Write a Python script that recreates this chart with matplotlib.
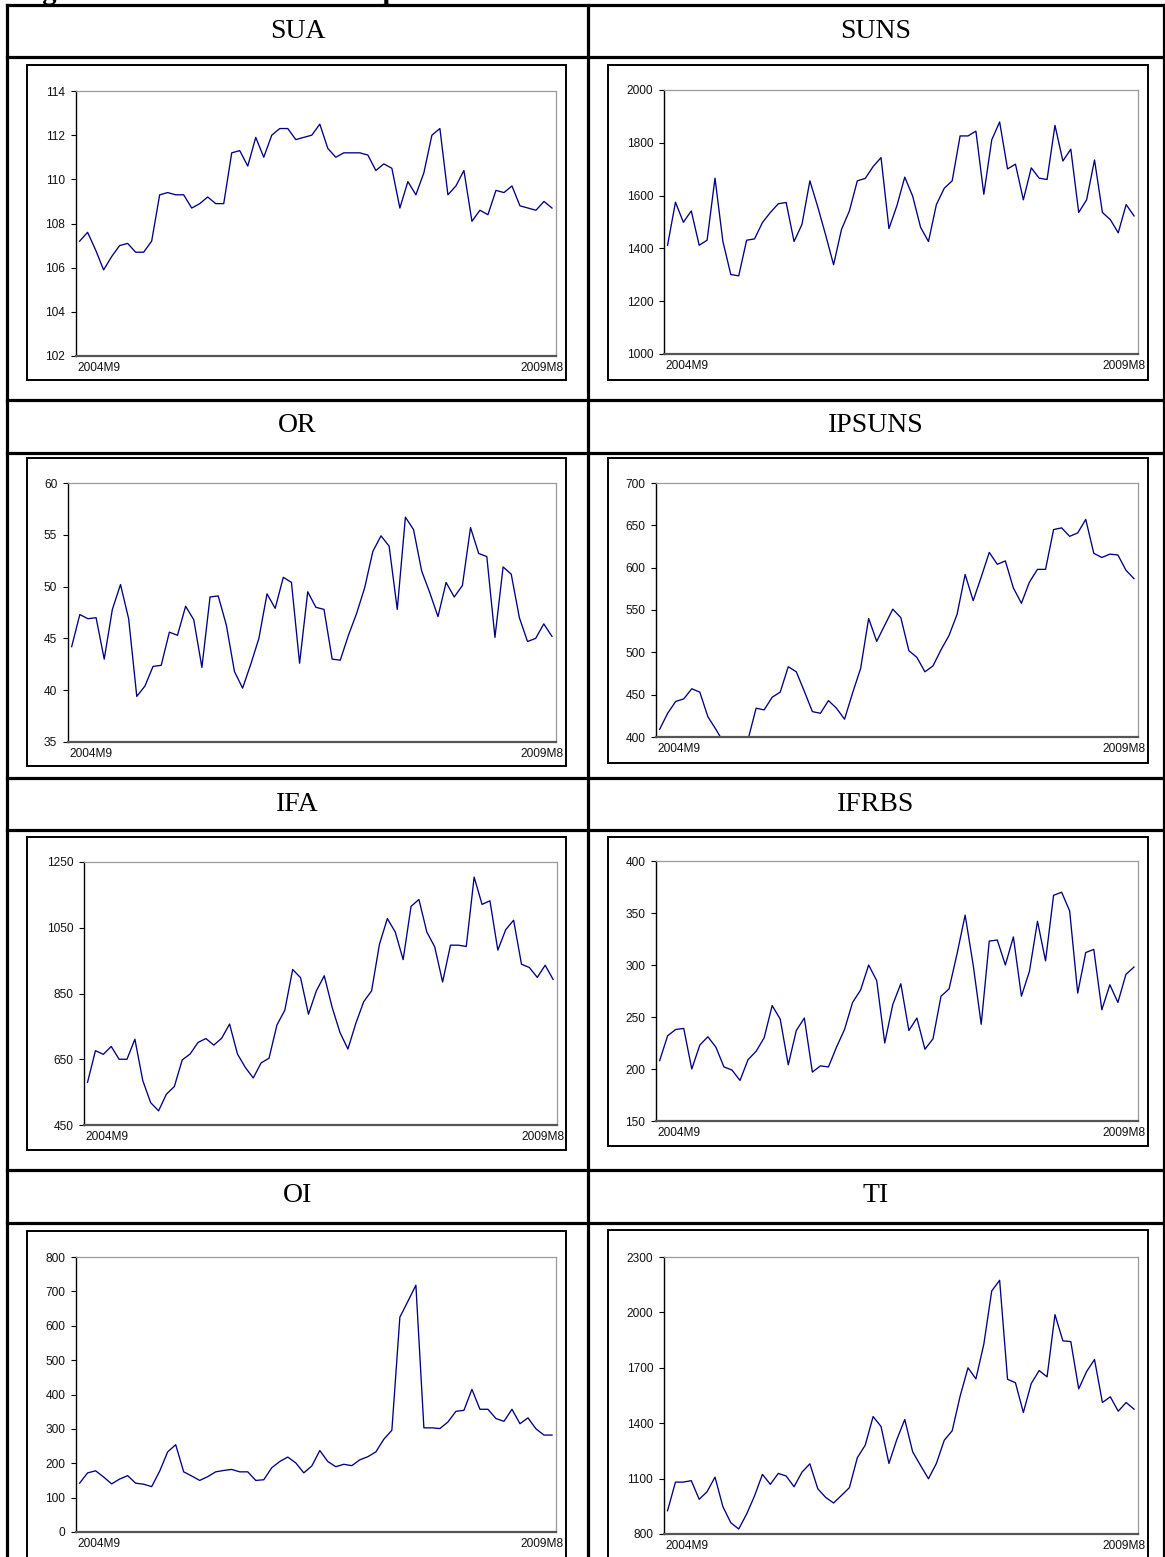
import matplotlib
matplotlib.use("Agg")
import matplotlib.pyplot as plt
from matplotlib.patches import Rectangle
from matplotlib.lines import Line2D

# ---------------- data ----------------
titles = ["SUA", "SUNS", "OR", "IPSUNS", "IFA", "IFRBS", "OI", "TI"]
x_labels = ["2004M9", "2009M8"]
caption = "Figure 1. The evolution of the parameters"

sua = [107.2, 107.6, 106.8, 105.9, 106.5, 107.0, 107.1, 106.7, 106.7, 107.2,
       109.3, 109.4, 109.3, 109.3, 108.7, 108.9, 109.2, 108.9, 108.9, 111.2,
       111.3, 110.6, 111.9, 111.0, 112.0, 112.3, 112.3, 111.8, 111.9, 112.0,
       112.5, 111.4, 111.0, 111.2, 111.2, 111.2, 111.1, 110.4, 110.7, 110.5,
       108.7, 109.9, 109.3, 110.3, 112.0, 112.3, 109.3, 109.7, 110.4, 108.1,
       108.6, 108.4, 109.5, 109.4, 109.7, 108.8, 108.7, 108.6, 109.0, 108.7]
suns = [1412, 1575, 1499, 1542, 1412, 1431, 1666, 1426, 1301, 1296,
        1431, 1436, 1498, 1536, 1569, 1574, 1426, 1491, 1656, 1557,
        1450, 1338, 1472, 1542, 1656, 1665, 1710, 1744, 1475, 1561,
        1670, 1598, 1480, 1426, 1566, 1628, 1656, 1826, 1826, 1844,
        1605, 1811, 1879, 1701, 1719, 1584, 1705, 1666, 1661, 1866,
        1731, 1776, 1536, 1584, 1735, 1536, 1509, 1459, 1566, 1523]
or_ = [44.2, 47.3, 46.9, 47.0, 43.0, 47.8, 50.2, 46.9, 39.4, 40.4,
       42.3, 42.4, 45.6, 45.3, 48.1, 46.8, 42.2, 49.0, 49.1, 46.3,
       41.8, 40.2, 42.5, 45.0, 49.3, 47.9, 50.9, 50.4, 42.6, 49.5,
       48.0, 47.8, 43.0, 42.9, 45.3, 47.4, 49.9, 53.4, 54.9, 53.9,
       47.8, 56.7, 55.5, 51.5, 49.4, 47.1, 50.4, 49.0, 50.1, 55.7,
       53.2, 52.9, 45.1, 51.9, 51.2, 47.0, 44.7, 45.0, 46.4, 45.2]
ipsuns = [409, 428, 442, 445, 457, 453, 424, 409, 393, 389,
          391, 397, 434, 432, 447, 453, 483, 477, 454, 430,
          428, 443, 434, 421, 452, 481, 540, 513, 532, 551,
          541, 502, 494, 477, 484, 503, 520, 545, 592, 561,
          589, 618, 604, 608, 576, 558, 583, 598, 598, 645,
          647, 637, 641, 657, 617, 612, 616, 615, 597, 587]
ifa = [580, 676, 665, 689, 650, 650, 711, 585, 518, 493,
       544, 567, 648, 666, 701, 713, 693, 714, 757, 666,
       625, 593, 639, 653, 754, 799, 923, 898, 787, 858,
       904, 808, 731, 681, 759, 825, 858, 1000, 1078, 1037,
       953, 1115, 1136, 1037, 992, 885, 997, 997, 993, 1204,
       1121, 1132, 982, 1044, 1073, 939, 929, 899, 936, 893]
ifrbs = [208, 232, 238, 239, 200, 223, 231, 221, 202, 199,
         189, 209, 217, 230, 261, 248, 204, 237, 249, 197,
         203, 202, 221, 238, 264, 276, 300, 285, 225, 262,
         282, 237, 249, 219, 229, 270, 277, 311, 348, 300,
         243, 323, 324, 300, 327, 270, 294, 342, 304, 367,
         370, 352, 273, 312, 315, 257, 281, 264, 291, 298]
oi = [142, 172, 178, 160, 140, 154, 164, 142, 139, 132,
      177, 233, 254, 175, 163, 150, 161, 175, 179, 182,
      175, 175, 150, 152, 187, 205, 218, 201, 172, 192,
      237, 205, 190, 197, 193, 210, 219, 233, 270, 296,
      625, 671, 718, 303, 303, 301, 320, 351, 354, 415,
      357, 357, 330, 322, 357, 315, 332, 300, 282, 282]
ti = [926, 1081, 1081, 1089, 988, 1029, 1108, 948, 861, 827,
      908, 1006, 1123, 1069, 1128, 1114, 1056, 1135, 1180, 1045,
      998, 968, 1009, 1051, 1213, 1281, 1436, 1382, 1182, 1312,
      1420, 1245, 1171, 1099, 1182, 1308, 1359, 1546, 1700, 1640,
      1828, 2116, 2174, 1638, 1619, 1458, 1615, 1685, 1651, 1988,
      1846, 1842, 1586, 1680, 1745, 1512, 1543, 1465, 1512, 1476]

series = [sua, suns, or_, ipsuns, ifa, ifrbs, oi, ti]
y_limits = [(102, 114), (1000, 2000), (35, 60), (400, 700),
            (450, 1250), (150, 400), (0, 800), (800, 2300)]
y_steps = [2, 200, 5, 50, 200, 50, 100, 300]

# ---------------- layout (pixels) ----------------
W, H = 1165, 1557
fig = plt.figure(figsize=(W / 100, H / 100), dpi=100)
fig.patch.set_facecolor("white")


def fx(x):
    return x / W


def fy(y):
    return 1 - y / H


# table grid
TL, TR, TT = 7, 1164, 5
COLX = 588
row_lines = [5, 57, 400, 453, 778, 830, 1170, 1223]
header_centers = [31, 426, 804, 1196]
for y in row_lines:
    fig.add_artist(Line2D([fx(TL), fx(TR)], [fy(y), fy(y)], color="black", lw=2.3))
for x in (TL, COLX, TR):
    fig.add_artist(Line2D([fx(x), fx(x)], [fy(TT), fy(H + 10)], color="black", lw=2.3))

# caption (cut off at top)
fig.text(fx(17), fy(-1), caption, fontsize=20.5, fontweight="bold",
         family="Liberation Serif", ha="left", va="baseline")

# chart boxes: (x0, y0, x1, y1)
boxes = [(27, 65, 566, 380), (608, 65, 1148, 380),
         (27, 458, 566, 766), (608, 458, 1148, 763),
         (27, 837, 566, 1150), (608, 837, 1148, 1146),
         (27, 1231, 566, 1600), (608, 1230, 1148, 1600)]
# plot areas: (x0, ytop, x1, ybottom)
plots = [(76, 91, 556, 356), (664, 90, 1138, 354),
         (68, 483, 556, 742), (656, 483, 1138, 737),
         (84, 862, 557, 1125), (656, 861, 1138, 1121),
         (76, 1257, 556, 1532), (664, 1257, 1138, 1534)]

for i in range(8):
    # header
    col = i % 2
    row = i // 2
    cx = (TL + COLX) / 2 if col == 0 else (COLX + TR) / 2
    fig.text(fx(cx), fy(header_centers[row]), titles[i], fontsize=20,
             family="Liberation Serif", ha="center", va="center")

    bx0, by0, bx1, by1 = boxes[i]
    fig.add_artist(Rectangle((fx(bx0), fy(by1)), (bx1 - bx0) / W, (by1 - by0) / H,
                             transform=fig.transFigure, fill=False,
                             ec="black", lw=1.4))

    px0, py0, px1, py1 = plots[i]
    ax = fig.add_axes([fx(px0), fy(py1), (px1 - px0) / W, (py1 - py0) / H])
    vals = series[i]
    ax.plot(range(len(vals)), vals, color="#000080", lw=0.95)
    lo, hi = y_limits[i]
    ax.set_ylim(lo, hi)
    ax.set_xlim(-0.45, len(vals) - 0.5)
    step = y_steps[i]
    ticks = list(range(lo, hi + 1, step))
    ax.set_yticks(ticks)
    ax.set_yticklabels([str(t) for t in ticks], family="Liberation Sans",
                       fontsize=8.6, color="#111111")
    ax.set_xticks([])
    ax.tick_params(axis="y", direction="out", length=3.6, width=0.8, pad=4.2,
                   color="black")
    ax.spines["left"].set_color("black")
    ax.spines["left"].set_linewidth(1.0)
    ax.spines["bottom"].set_color("#555555")
    ax.spines["bottom"].set_linewidth(1.6)
    ax.spines["top"].set_color("#9a9a9a")
    ax.spines["top"].set_linewidth(0.9)
    ax.spines["right"].set_color("#9a9a9a")
    ax.spines["right"].set_linewidth(0.9)
    ax.set_facecolor("white")
    ax.annotate(x_labels[0], xy=(0, 0), xycoords="axes fraction",
                xytext=(1, -6), textcoords="offset pixels", ha="left", va="top",
                family="Liberation Sans", fontsize=8.6, color="#111111")
    ax.annotate(x_labels[1], xy=(1, 0), xycoords="axes fraction",
                xytext=(8, -6), textcoords="offset pixels", ha="right", va="top",
                family="Liberation Sans", fontsize=8.6, color="#111111")

fig.savefig("out.png", dpi=100, facecolor="white")
